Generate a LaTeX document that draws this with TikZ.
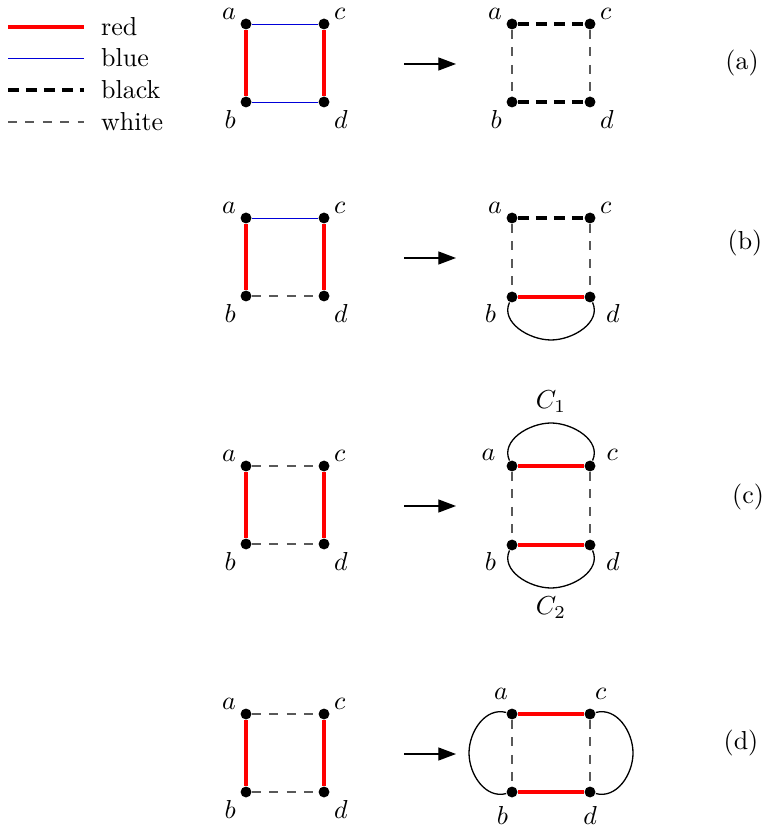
\documentclass[tikz,border=0pt]{standalone}
\usetikzlibrary{arrows.meta}
\tikzset{
  >={Triangle[length=6.8pt,width=5pt]},
  vx/.style={circle,fill=black,inner sep=0pt,minimum size=4.2pt},
  rededge/.style={draw=red,line width=1.6pt},
  blueedge/.style={draw=blue!85!black,line width=0.35pt},
  blackedge/.style={draw=black,line width=1.2pt,dash pattern=on 4.2pt off 2.7pt},
  whiteedge/.style={draw=black!65,line width=0.45pt,dash pattern=on 3.5pt off 3.2pt},
  loopedge/.style={draw=black,line width=0.5pt},
  tag/.style={font=\normalsize},
  toplab/.style={label={[yshift=-1.5pt]#1}},
}
\begin{document}
\begin{tikzpicture}[x=0.385pt,y=-0.385pt,every label/.style={inner sep=1pt},label distance=1pt]
\useasboundingbox (0,0) rectangle (765,828);
% legend
\foreach \s/\t/\y in {rededge/red/27,blueedge/blue/58,blackedge/black/90,whiteedge/white/122}{
  \coordinate (l\t) at (8,\y);
  \coordinate (r\t) at (84,\y);
  \draw[\s] (l\t) -- (r\t);
  \node[tag,anchor=west] (t\t) at (92,\y) {\t};
}
% vertices, left squares of each row
\foreach \r/\y in {1/24,2/218,3/466,4/714}{
  \node[vx,toplab=145:$a$] (a\r) at (246,\y) {};
  \node[vx,toplab=35:$c$] (c\r) at (324,\y) {};
  \node[vx,label=215:$b$] (b\r) at (246,\y+78) {};
  \node[vx,label=-35:$d$] (d\r) at (324,\y+78) {};
  \coordinate (p\r) at (404,\y+40);
  \coordinate (q\r) at (456,\y+40);
  \draw[->,line width=0.5pt] (p\r) -- (q\r);
}
% right squares
\node[vx,toplab=145:$a$] (A1) at (512,24) {};
\node[vx,toplab=35:$c$] (C1) at (590,24) {};
\node[vx,label=215:$b$] (B1) at (512,102) {};
\node[vx,label=-35:$d$] (D1) at (590,102) {};
\node[vx,toplab=145:$a$] (A2) at (512,218) {};
\node[vx,toplab=35:$c$] (C2) at (590,218) {};
\node[vx,label={[label distance=3pt]200:$b$}] (B2) at (512,297) {};
\node[vx,label={[label distance=3pt]-20:$d$}] (D2) at (590,297) {};
\node[vx,label={[label distance=3pt]170:$a$}] (A3) at (512,466) {};
\node[vx,label={[label distance=3pt]10:$c$}] (C3) at (590,466) {};
\node[vx,label={[label distance=3pt]200:$b$}] (B3) at (512,545) {};
\node[vx,label={[label distance=3pt]-20:$d$}] (D3) at (590,545) {};
\node[vx,label={[label distance=2pt]95:$a$}] (A4) at (512,714) {};
\node[vx,label={[label distance=2pt]80:$c$}] (C4) at (590,714) {};
\node[vx,label={[label distance=2pt]-95:$b$}] (B4) at (512,792) {};
\node[vx,label={[label distance=2pt]-90:$d$}] (D4) at (590,792) {};
% (a)
\draw[rededge] (a1) -- (b1) (c1) -- (d1);
\draw[blueedge] (a1) -- (c1) (b1) -- (d1);
\draw[whiteedge] (A1) -- (B1) (C1) -- (D1);
\draw[blackedge] (A1) -- (C1) (B1) -- (D1);
% (b)
\draw[rededge] (a2) -- (b2) (c2) -- (d2);
\draw[blueedge] (a2) -- (c2);
\draw[whiteedge] (b2) -- (d2);
\draw[whiteedge] (A2) -- (B2) (C2) -- (D2);
\draw[blackedge] (A2) -- (C2);
\draw[rededge] (B2) -- (D2);
\draw[loopedge] (B2) to[out=245,in=180] (551,340) to[out=0,in=-65] (D2);
% (c)
\draw[rededge] (a3) -- (b3) (c3) -- (d3);
\draw[whiteedge] (a3) -- (c3) (b3) -- (d3);
\draw[whiteedge] (A3) -- (B3) (C3) -- (D3);
\draw[rededge] (A3) -- (C3) (B3) -- (D3);
\draw[loopedge] (A3) to[out=115,in=180] (551,423) to[out=0,in=65] (C3);
\draw[loopedge] (B3) to[out=245,in=180] (551,588) to[out=0,in=-65] (D3);
\node[tag] (c1lab) at (551,402) {$C_1$};
\node[tag] (c2lab) at (551,608) {$C_2$};
% (d)
\draw[rededge] (a4) -- (b4) (c4) -- (d4);
\draw[whiteedge] (a4) -- (c4) (b4) -- (d4);
\draw[whiteedge] (A4) -- (B4) (C4) -- (D4);
\draw[rededge] (A4) -- (C4) (B4) -- (D4);
\draw[loopedge] (A4) to[out=165,in=90] (469,753) to[out=-90,in=195] (B4);
\draw[loopedge] (C4) to[out=15,in=90] (633,753) to[out=-90,in=-15] (D4);
% row tags
\node[tag] (ta) at (742,63) {(a)};
\node[tag] (tb) at (745,243) {(b)};
\node[tag] (tc) at (748,497) {(c)};
\node[tag] (td) at (741,743) {(d)};
\end{tikzpicture}
\end{document}
